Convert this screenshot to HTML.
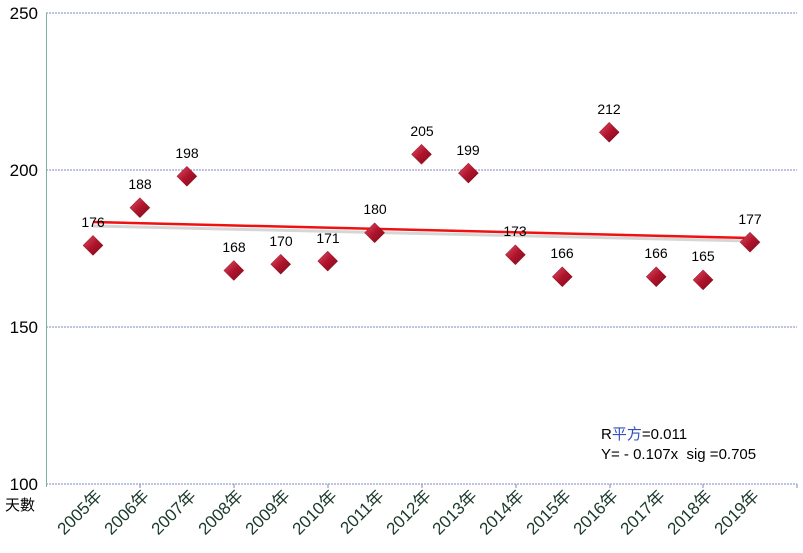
<!DOCTYPE html>
<html><head><meta charset="utf-8"><style>
body{margin:0;background:#fff}
svg{display:block}
text{font-family:"Liberation Sans","Noto Sans CJK TC",sans-serif}
</style></head><body>
<svg width="803" height="553" xmlns="http://www.w3.org/2000/svg">
<defs>
<linearGradient id="g" x1="0" y1="0" x2="1" y2="1">
<stop offset="0" stop-color="#e0506a"/><stop offset="0.5" stop-color="#b0142c"/><stop offset="1" stop-color="#7a0a1a"/>
</linearGradient>
</defs>
<g stroke="#7c87c4" stroke-width="1" stroke-dasharray="2,1">
<line x1="46" y1="13" x2="797" y2="13"/>
<line x1="46" y1="170" x2="797" y2="170"/>
<line x1="46" y1="327" x2="797" y2="327"/>
<line x1="46" y1="484" x2="797" y2="484"/>
</g>
<line x1="46.5" y1="13" x2="46.5" y2="487" stroke="#7fb0a0" stroke-width="1"/>
<g stroke="#7c87c4" stroke-width="1">
<line x1="140" y1="484" x2="140" y2="488"/><line x1="234" y1="484" x2="234" y2="488"/><line x1="328" y1="484" x2="328" y2="488"/><line x1="422" y1="484" x2="422" y2="488"/><line x1="516" y1="484" x2="516" y2="488"/><line x1="610" y1="484" x2="610" y2="488"/><line x1="703" y1="484" x2="703" y2="488"/><line x1="797" y1="484" x2="797" y2="488"/>
</g>
<g font-size="17" fill="#000" text-anchor="end">
<text x="38" y="19">250</text><text x="38" y="176">200</text><text x="38" y="333">150</text><text x="38" y="490">100</text>
</g>
<text x="5" y="510" font-size="15">天數</text>
<line x1="93" y1="226" x2="750" y2="241" stroke="#bbb" stroke-width="3" opacity="0.6"/>
<line x1="93" y1="222" x2="750" y2="238" stroke="#f01010" stroke-width="2.5"/>
<g fill="url(#g)" stroke="#8a0a1a" stroke-width="0.5">
<path d="M93 235.4l10 10-10 10-10-10z"/>
<path d="M139.9 197.7l10 10-10 10-10-10z"/>
<path d="M186.9 166.3l10 10-10 10-10-10z"/>
<path d="M233.8 260.5l10 10-10 10-10-10z"/>
<path d="M280.7 254.2l10 10-10 10-10-10z"/>
<path d="M327.7 251.1l10 10-10 10-10-10z"/>
<path d="M374.6 222.8l10 10-10 10-10-10z"/>
<path d="M421.5 144.3l10 10-10 10-10-10z"/>
<path d="M468.4 163.1l10 10-10 10-10-10z"/>
<path d="M515.4 244.8l10 10-10 10-10-10z"/>
<path d="M562.3 266.8l10 10-10 10-10-10z"/>
<path d="M609.2 122.3l10 10-10 10-10-10z"/>
<path d="M656.2 266.8l10 10-10 10-10-10z"/>
<path d="M703.1 269.9l10 10-10 10-10-10z"/>
<path d="M750 232.2l10 10-10 10-10-10z"/>
</g>
<g font-size="14" fill="#000" text-anchor="middle">
<text x="93" y="227">176</text><text x="140" y="189">188</text><text x="187" y="158">198</text><text x="234" y="252">168</text><text x="281" y="246">170</text><text x="328" y="243">171</text><text x="375" y="214">180</text><text x="422" y="136">205</text><text x="468" y="155">199</text><text x="515" y="236">173</text><text x="562" y="258">166</text><text x="609" y="114">212</text><text x="656" y="258">166</text><text x="703" y="261">165</text><text x="750" y="224">177</text>
</g>
<g font-size="17" fill="#1a3a2a" text-anchor="end">
<text transform="translate(103,497) rotate(-45)">2005年</text>
<text transform="translate(150,497) rotate(-45)">2006年</text>
<text transform="translate(197,497) rotate(-45)">2007年</text>
<text transform="translate(244,497) rotate(-45)">2008年</text>
<text transform="translate(291,497) rotate(-45)">2009年</text>
<text transform="translate(338,497) rotate(-45)">2010年</text>
<text transform="translate(385,497) rotate(-45)">2011年</text>
<text transform="translate(432,497) rotate(-45)">2012年</text>
<text transform="translate(478,497) rotate(-45)">2013年</text>
<text transform="translate(525,497) rotate(-45)">2014年</text>
<text transform="translate(572,497) rotate(-45)">2015年</text>
<text transform="translate(619,497) rotate(-45)">2016年</text>
<text transform="translate(666,497) rotate(-45)">2017年</text>
<text transform="translate(713,497) rotate(-45)">2018年</text>
<text transform="translate(760,497) rotate(-45)">2019年</text>
</g>
<text x="601" y="439" font-size="15" fill="#000">R<tspan fill="#3050c0">平方</tspan>=0.011</text>
<text x="601" y="459" font-size="15" fill="#000" xml:space="preserve">Y= - 0.107x  sig =0.705</text>
</svg>
</body></html>
